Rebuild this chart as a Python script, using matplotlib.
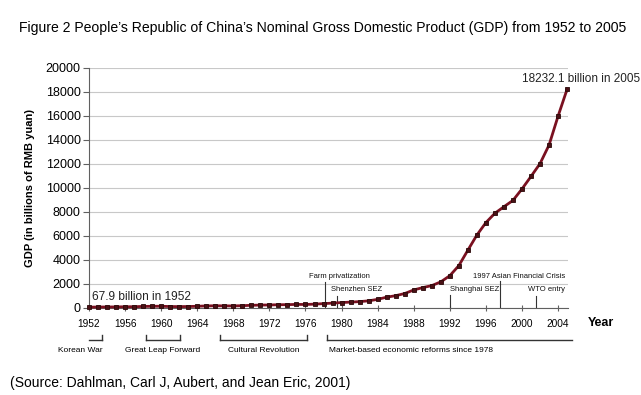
import matplotlib
matplotlib.use("Agg")
import matplotlib.pyplot as plt
import matplotlib.transforms as mtransforms

plt.rcParams['font.family'] = ['Liberation Sans', 'DejaVu Sans']

# nominal GDP, billions of RMB yuan
years = list(range(1952, 2006))
gdp = [67.9, 82.4, 85.9, 91.0, 102.8, 106.8, 130.7, 143.9, 145.7, 122.0,
       114.9, 123.3, 145.4, 171.6, 186.8, 177.4, 172.3, 193.8, 225.3, 242.6,
       251.8, 272.1, 279.0, 299.7, 294.4, 320.2, 364.5, 406.3, 454.6, 489.2,
       532.3, 596.3, 720.8, 901.6, 1027.5, 1205.9, 1504.3, 1699.2, 1866.8, 2178.2,
       2692.4, 3533.4, 4819.8, 6079.4, 7117.7, 7897.3, 8440.2, 8967.7, 9921.5, 10965.5,
       12033.3, 13582.3, 15987.8, 18232.1]

x_ticks = list(range(1952, 2005, 4))
y_ticks = list(range(0, 20001, 2000))

# events marked inside the plot: (label, year of line, top of line, text x, text y, align)
events = [
    ("Farm privatization", 1978.2, 2200, 1976.4, 2600, "left"),
    ("Shenzhen SEZ", 1979.5, 1000, 1978.8, 1550, "left"),
    ("Shanghai SEZ", 1992.0, 1050, 1992.0, 1550, "left"),
    ("1997 Asian Financial Crisis", 1997.6, 2250, 2004.8, 2650, "right"),
    ("WTO entry", 2001.5, 1000, 2004.8, 1550, "right"),
]

# periods below the axis: (label, start, end, left tick, right tick)
periods = [
    ("Korean War", 1952.0, 1953.4, False, True),
    ("Great Leap Forward", 1958.3, 1962.1, True, True),
    ("Cultural Revolution", 1966.5, 1976.2, True, True),
    ("Market-based economic reforms since 1978", 1978.4, 2005.5, True, False),
]

fig = plt.figure(figsize=(6.41, 3.95), dpi=100)
ax = fig.add_axes([89 / 641, 1 - 308 / 395, 479 / 641, 240 / 395])

ax.plot(years, gdp, color='#7a1020', lw=2.0, marker='s', ms=3.3,
        mfc='#4a1015', mec='#2a0808', mew=0.6, zorder=3, clip_on=False)

ax.set_xlim(1952, 2005.1)
ax.set_ylim(0, 20000)
ax.set_xticks(x_ticks)
ax.set_yticks(y_ticks)
ax.tick_params(axis='y', labelsize=9, length=4, color='#606060', pad=2)
ax.tick_params(axis='x', labelsize=7.3, length=4, direction='inout', color='#606060', pad=6)
ax.grid(axis='y', color='#c8c8c8', lw=0.8)
ax.set_axisbelow(True)
for s in ['top', 'right']:
    ax.spines[s].set_visible(False)
ax.spines['left'].set_color('#606060')
ax.spines['bottom'].set_color('#606060')

for lab, lx, ltop, tx, ty, ha in events:
    ax.plot([lx, lx], [0, ltop], color='#333333', lw=0.8, zorder=2)
    ax.text(tx, ty, lab, fontsize=5.5, ha=ha, va='center', color='#111111')

ax.text(1952.3, 450, "67.9 billion in 1952", fontsize=8.6, ha='left', va='bottom', color='#222222')
ax.text(2006.5, 18600, "18232.1 billion in 2005", fontsize=8.5, ha='center', va='bottom', color='#222222')

# brackets under the axis
trans = mtransforms.blended_transform_factory(ax.transData, fig.transFigure)
yb = 1 - 340 / 395
yt = 1 - 335 / 395
for lab, x0, x1, lt, rt in periods:
    ax.plot([x0, x1], [yb, yb], color='#333333', lw=1.0, transform=trans, clip_on=False)
    if lt:
        ax.plot([x0, x0], [yb, yt], color='#333333', lw=1.0, transform=trans, clip_on=False)
    if rt:
        ax.plot([x1, x1], [yb, yt], color='#333333', lw=1.0, transform=trans, clip_on=False)
    if lab.startswith("Market"):
        ax.text(x0 + 0.2, 1 - 351 / 395, lab, fontsize=6, ha='left', va='center', transform=trans)
    elif lab == "Korean War":
        ax.text(1951.0, 1 - 351 / 395, lab, fontsize=6, ha='center', va='center', transform=trans)
    else:
        ax.text((x0 + x1) / 2, 1 - 351 / 395, lab, fontsize=6, ha='center', va='center', transform=trans)

ax.set_ylabel("GDP (in billions of RMB yuan)", fontsize=8, fontweight='bold', labelpad=8)
fig.text(601 / 641, 1 - 323 / 395, "Year", fontsize=9, fontweight='bold', ha='center', va='center')

fig.text(323 / 641, 1 - 28 / 395,
         "Figure 2 People\u2019s Republic of China\u2019s Nominal Gross Domestic Product (GDP) from 1952 to 2005",
         fontsize=10.1, ha='center', va='center')
fig.text(10 / 641, 1 - 383 / 395, "(Source: Dahlman, Carl J, Aubert, and Jean Eric, 2001)",
         fontsize=10, ha='left', va='center')

fig.savefig("out.png", dpi=100)
